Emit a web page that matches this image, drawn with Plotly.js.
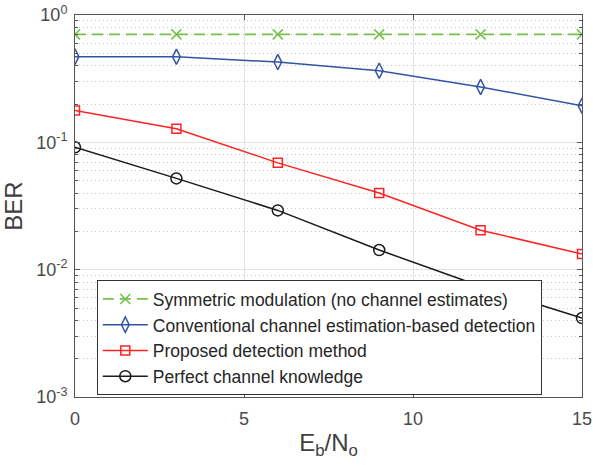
<!DOCTYPE html>
<html><head><meta charset="utf-8">
<script src="https://cdn.plot.ly/plotly-3.0.1.min.js"></script>
<style>body{margin:0;padding:0;background:#fff}#plot{width:593px;height:468px}</style>
</head><body><div id="plot"></div>
<script>
const ebno = [0, 3, 6, 9, 12, 15];
const berSymmetric = [0.705, 0.705, 0.705, 0.705, 0.705, 0.705];
const berConventional = [0.471, 0.47, 0.427, 0.365, 0.272, 0.194];
const berProposed = [0.178, 0.128, 0.069, 0.040, 0.0204, 0.0133];
const berPerfect = [0.0914, 0.0521, 0.0292, 0.01426, 0.0074, 0.00417];
const seriesNames = [
  'Symmetric modulation (no channel estimates)',
  'Conventional channel estimation-based detection',
  'Proposed detection method',
  'Perfect channel knowledge'
];
const yTickVals = [0.001, 0.01, 0.1, 1];
const yTickText = ['10<sup>-3</sup>', '10<sup>-2</sup>', '10<sup>-1</sup>', '10<sup>0</sup>'];
const xTickVals = [0, 5, 10, 15];

const traces = [
  {x: ebno, y: berSymmetric, name: seriesNames[0], mode: 'lines+markers',
   line: {color: '#77c04c', width: 1.8, dash: '11px,6px'},
   marker: {symbol: 'x-thin-open', size: 10, line: {color: '#77c04c', width: 1.6}}},
  {x: ebno, y: berConventional, name: seriesNames[1], mode: 'lines+markers',
   line: {color: '#3353a5', width: 1.5},
   marker: {symbol: 'diamond-tall-open', size: 11, color: '#3353a5', line: {color: '#3353a5', width: 1.5}}},
  {x: ebno, y: berProposed, name: seriesNames[2], mode: 'lines+markers',
   line: {color: '#ff2222', width: 1.5},
   marker: {symbol: 'square-open', size: 9, color: '#ff2222', line: {color: '#ff2222', width: 1.5}}},
  {x: ebno, y: berPerfect, name: seriesNames[3], mode: 'lines+markers',
   line: {color: '#1a1a1a', width: 1.5},
   marker: {symbol: 'circle-open', size: 11, color: '#1a1a1a', line: {color: '#1a1a1a', width: 1.5}}}
];

const layout = {
  width: 593, height: 468,
  margin: {l: 75, r: 11, t: 15, b: 71},
  paper_bgcolor: '#fff', plot_bgcolor: '#fff',
  font: {family: 'Liberation Sans, Arial, sans-serif', color: '#404040', size: 18},
  showlegend: true,
  legend: {
    x: 0.043, y: 0.005, xanchor: 'left', yanchor: 'bottom',
    bgcolor: '#fff', bordercolor: '#333', borderwidth: 1,
    font: {size: 17.5, color: '#262626'}, itemwidth: 45, tracegroupgap: 0,
    entrywidth: 420, entrywidthmode: 'pixels',
    traceorder: 'normal'
  },
  xaxis: {
    range: [0, 15], tickvals: xTickVals, ticks: 'inside', ticklen: 5, tickcolor: '#555',
    showline: true, linecolor: '#555', linewidth: 1, mirror: 'allticks',
    showgrid: true, gridcolor: '#e3e3e3', gridwidth: 1, zeroline: false,
    tickfont: {size: 18, color: '#4a4a4a'}, ticklabelstandoff: 5,
    title: {text: 'E<sub>b</sub>/N<sub>o</sub>', font: {size: 24, color: '#404040'}, standoff: 6}
  },
  yaxis: {
    type: 'log', range: [-3, 0], tickvals: yTickVals, ticktext: yTickText,
    ticks: 'inside', ticklen: 5, tickcolor: '#555',
    showline: true, linecolor: '#555', linewidth: 1, mirror: 'allticks',
    showgrid: true, gridcolor: '#e3e3e3', gridwidth: 1, zeroline: false,
    tickfont: {size: 18, color: '#4a4a4a'}, ticklabelstandoff: 3,
    minor: {dtick: 'D1', ticks: 'inside', ticklen: 3, tickcolor: '#555', showgrid: true, gridcolor: '#c4c4c4', griddash: '1px,3px', gridwidth: 1},
    title: {text: 'BER', font: {size: 24, color: '#404040'}, standoff: 6}
  }
};

Plotly.newPlot('plot', traces, layout, {displayModeBar: false, staticPlot: true});
</script></body></html>
